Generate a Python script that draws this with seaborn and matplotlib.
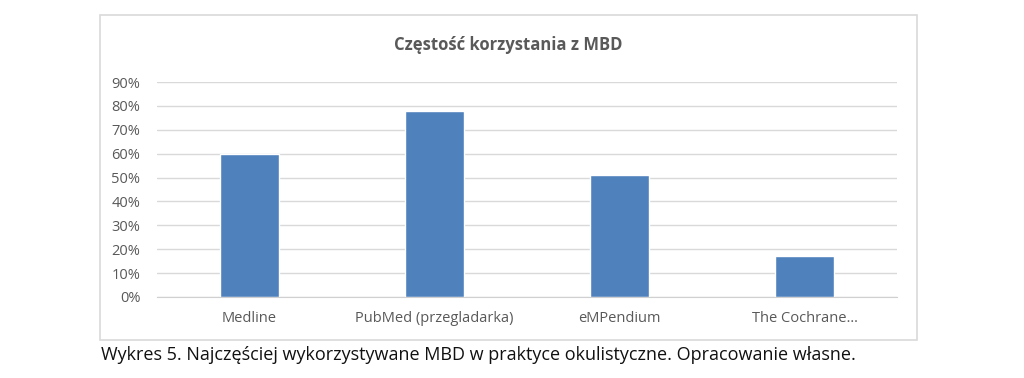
import numpy as np
import pandas as pd
import seaborn as sns
import matplotlib.pyplot as plt
from matplotlib.patches import Rectangle
from matplotlib.ticker import FuncFormatter

categories = ["Medline", "PubMed (przegladarka)", "eMPendium", "The Cochrane…"]
values = [0.60, 0.78, 0.51, 0.17]
title = "Częstość korzystania z MBD"
caption = "Wykres 5. Najczęściej wykorzystywane MBD w praktyce okulistyczne. Opracowanie własne."

sns.set_style("white")
plt.rcParams["font.family"] = ["Open Sans", "DejaVu Sans"]

df = pd.DataFrame({"baza": categories, "udzial": values})

fig = plt.figure(figsize=(10.24, 3.78), dpi=100)

# chart border box
fig.patches.append(Rectangle((100 / 1024, 1 - 340 / 378), 817 / 1024, 325 / 378,
                             transform=fig.transFigure, fill=False,
                             edgecolor="#d9d9d9", linewidth=1.2))

ax = fig.add_axes([157 / 1024, 1 - 297 / 378, 740 / 1024, 215 / 378])
sns.barplot(data=df, x="baza", y="udzial", color="#4f81bd", width=0.32,
            saturation=1, ax=ax, zorder=3)

ax.set_ylim(0, 0.9)
ax.set_yticks(np.arange(0, 0.91, 0.1))
ax.yaxis.set_major_formatter(FuncFormatter(lambda v, p: f"{v * 100:.0f}%"))
ax.grid(axis="y", color="#d9d9d9", linewidth=1, zorder=0)
ax.set_axisbelow(True)
for s in ax.spines.values():
    s.set_visible(False)
ax.spines["bottom"].set_visible(True)
ax.spines["bottom"].set_color("#d0d0d0")
ax.spines["bottom"].set_zorder(4)
ax.tick_params(axis="both", length=0, labelsize=10.5, labelcolor="#595959")
ax.tick_params(axis="y", pad=12)
ax.tick_params(axis="x", pad=10)
ax.set_xlabel("")
ax.set_ylabel("")

fig.text(508 / 1024, 1 - 45 / 378, title, ha="center", va="center",
         fontsize=12, fontweight="bold", color="#595959")
fig.text(101 / 1024, 1 - 355 / 378, caption, ha="left", va="center",
         fontsize=13, color="#111111")

fig.savefig("out.png", dpi=100)
plt.close()
